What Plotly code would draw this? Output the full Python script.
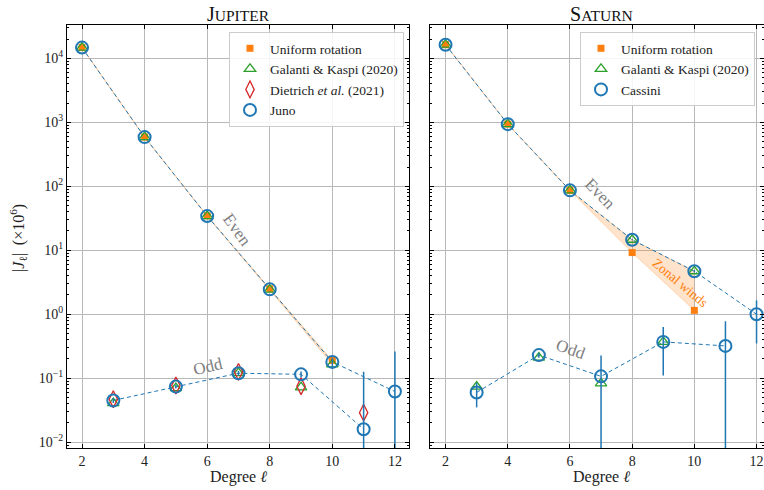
import plotly.graph_objects as go

# ---------------- data ----------------
even_deg = [2, 4, 6, 8, 10, 12]
odd_deg = [3, 5, 7, 9, 11]
band_deg = [2, 4, 6, 8, 10]
gk_odd_deg = [3, 5, 7, 9]

# Jupiter
jup_uniform = [14696.5, 586.6, 34.5, 2.5, 0.19]
jup_gk_even = [14696.5, 586.6, 34.2, 2.42, 0.165]
jup_gk_odd = [0.041, 0.070, 0.120, 0.072]
jup_dietrich_odd = [0.047, 0.077, 0.126, 0.075, 0.029]
jup_juno_even = [14696.5, 586.6, 34.2, 2.45, 0.18, 0.062]
jup_juno_even_err = [0.0, 0.0, 0.0, 0.0, 0.03, 0.20]
jup_juno_odd = [0.045, 0.074, 0.120, 0.115, 0.016]
jup_juno_odd_err = [0.004, 0.005, 0.010, 0.012, 0.11]

# Saturn
sat_uniform = [16290.6, 935.3, 86.0, 9.2, 1.15]
sat_gk_even = [16290.6, 935.3, 86.3, 14.6, 4.7]
sat_gk_odd = [0.074, 0.21, 0.083, 0.37]
sat_cassini_even = [16290.6, 935.3, 86.3, 14.6, 4.7, 1.0]
sat_cassini_even_err = [0.0, 0.0, 0.0, 0.3, 0.2, 0.65]
sat_cassini_odd = [0.060, 0.23, 0.107, 0.37, 0.32]
sat_cassini_odd_err = [0.025, 0.02, 0.12, 0.26, 0.46]

# tick labels
y_tickvals = [1e-2, 1e-1, 1e0, 1e1, 1e2, 1e3, 1e4]
y_ticktext = ["10<sup>−2</sup>", "10<sup>−1</sup>", "10<sup>0</sup>", "10<sup>1</sup>",
              "10<sup>2</sup>", "10<sup>3</sup>", "10<sup>4</sup>"]
x_tickvals = [2, 4, 6, 8, 10, 12]

BLUE = "#1f77b4"
ORANGE = "#ff7f0e"
GREEN = "#2ca02c"
RED = "#d62728"
GRAY = "#7f7f7f"
FONT = "Liberation Serif, serif"

W, H = 764, 490
ML, MR, MT, MB = 67, 0, 25, 42
PW = W - ML - MR
PH = H - MT - MB


def px(x):
    return (x - ML) / PW


def py(y):
    return 1 - (y - MT) / PH


fig = go.Figure()


def panel(xa, ya, legend, uniform, gk_even, gk_odd, obs_even, obs_even_err,
          obs_odd, obs_odd_err, obs_name, dietrich=None):
    # zonal-winds band
    fig.add_trace(go.Scatter(x=band_deg, y=uniform, mode="lines",
                             line=dict(color="rgba(255,127,14,0.25)", width=1),
                             xaxis=xa, yaxis=ya, showlegend=False, hoverinfo="skip"))
    fig.add_trace(go.Scatter(x=band_deg, y=gk_even, mode="lines", fill="tonexty",
                             fillcolor="rgba(255,127,14,0.22)",
                             line=dict(color="rgba(255,127,14,0.25)", width=1),
                             xaxis=xa, yaxis=ya, showlegend=False, hoverinfo="skip"))
    # dashed lines through observations
    for xs, ys in ((even_deg, obs_even), (odd_deg, obs_odd)):
        fig.add_trace(go.Scatter(x=xs, y=ys, mode="lines",
                                 line=dict(color=BLUE, width=1, dash="4px,3px"),
                                 xaxis=xa, yaxis=ya, showlegend=False, hoverinfo="skip"))
    # uniform rotation
    fig.add_trace(go.Scatter(x=band_deg, y=uniform, mode="markers", name="Uniform rotation",
                             marker=dict(symbol="square", size=7, color=ORANGE),
                             xaxis=xa, yaxis=ya, legend=legend))
    # Galanti & Kaspi
    fig.add_trace(go.Scatter(x=band_deg + gk_odd_deg, y=gk_even + gk_odd, mode="markers",
                             name="Galanti &amp; Kaspi (2020)",
                             marker=dict(symbol="triangle-up-open", size=10, color=GREEN,
                                         line=dict(width=1.3, color=GREEN)),
                             xaxis=xa, yaxis=ya, legend=legend))
    if dietrich is not None:
        fig.add_trace(go.Scatter(x=odd_deg, y=dietrich, mode="markers",
                                 name="Dietrich <i>et al.</i> (2021)",
                                 marker=dict(symbol="diamond-tall-open", size=12, color=RED,
                                             line=dict(width=1.3, color=RED)),
                                 xaxis=xa, yaxis=ya, legend=legend))
    # observations
    fig.add_trace(go.Scatter(x=even_deg + odd_deg, y=obs_even + obs_odd, mode="markers",
                             name=obs_name,
                             error_y=dict(type="data", array=obs_even_err + obs_odd_err,
                                          color=BLUE, thickness=1.5, width=0),
                             marker=dict(symbol="circle-open", size=12, color=BLUE,
                                         line=dict(width=2, color=BLUE)),
                             xaxis=xa, yaxis=ya, legend=legend))


panel("x", "y", "legend", jup_uniform, jup_gk_even, jup_gk_odd, jup_juno_even,
      jup_juno_even_err, jup_juno_odd, jup_juno_odd_err, "Juno", dietrich=jup_dietrich_odd)
panel("x2", "y2", "legend2", sat_uniform, sat_gk_even, sat_gk_odd, sat_cassini_even,
      sat_cassini_even_err, sat_cassini_odd, sat_cassini_odd_err, "Cassini")

axis_common = dict(showline=True, linecolor="black", linewidth=1, mirror="ticks",
                   ticks="inside", ticklen=4, tickcolor="black", tickwidth=1,
                   showgrid=True, gridcolor="#b8b8b8", gridwidth=1, zeroline=False,
                   automargin=False, ticklabeloverflow="allow",
                   tickfont=dict(family=FONT, size=14, color="#222"))
xaxis_common = dict(axis_common, tickmode="array", tickvals=x_tickvals)
yaxis_common = dict(axis_common, type="log", range=[-2.09, 4.52],
                    tickmode="array", tickvals=y_tickvals, ticktext=y_ticktext,
                    minor=dict(ticks="inside", ticklen=2, tickcolor="black", dtick="D1",
                               showgrid=False))

legend_common = dict(bgcolor="rgba(255,255,255,0.85)", bordercolor="#cccccc", borderwidth=1,
                     font=dict(family=FONT, size=13.5, color="#222"), tracegroupgap=0,
                     traceorder="normal", yanchor="top", y=py(32))

fig.update_layout(
    template="none",
    width=W, height=H,
    margin=dict(l=ML, r=MR, t=MT, b=MB, autoexpand=False),
    plot_bgcolor="white", paper_bgcolor="white",
    font=dict(family=FONT, size=14, color="#222"),
    xaxis=dict(xaxis_common, domain=[0, px(409)], range=[1.52, 12.45], anchor="y"),
    xaxis2=dict(xaxis_common, domain=[px(430), 1], range=[1.5, 12.24], anchor="y2"),
    yaxis=dict(yaxis_common, anchor="x"),
    yaxis2=dict(yaxis_common, anchor="x2", matches="y", showticklabels=False),
    legend=dict(legend_common, x=px(404), xanchor="right"),
    legend2=dict(legend_common, x=px(580), xanchor="left"),
    showlegend=True,
)

ann = []


def add_text(text, x, y, size, color, angle=0):
    ann.append(dict(text=text, x=px(x), y=py(y), xref="paper", yref="paper",
                    xanchor="center", yanchor="middle", showarrow=False, textangle=angle,
                    font=dict(size=size, family=FONT, color=color)))


# titles
add_text("J<span style='font-size:15.5px'>UPITER</span>", 238, 14, 20, "#111")
add_text("S<span style='font-size:15.5px'>ATURN</span>", 601, 14, 20, "#111")
# axis titles
add_text("Degree <i>ℓ</i>", 238, 477, 16, "#222")
add_text("Degree <i>ℓ</i>", 601, 477, 16, "#222")
add_text("|<i>J</i><sub>ℓ</sub>|  (×10<sup>6</sup>)", 18, 238, 16, "#222", -90)
# in-panel labels
add_text("Even", 237, 229, 17, GRAY, 54)
add_text("Odd", 208, 366, 17, GRAY, -13)
add_text("Even", 600, 193, 17, GRAY, 46)
add_text("Odd", 571, 349, 17, GRAY, 20)
add_text("Zonal winds", 680, 282, 13.5, ORANGE, 40)
fig.update_layout(annotations=ann)

fig.write_html("out.html", config={"displayModeBar": False},
               post_script="document.body.style.margin='0px';")
